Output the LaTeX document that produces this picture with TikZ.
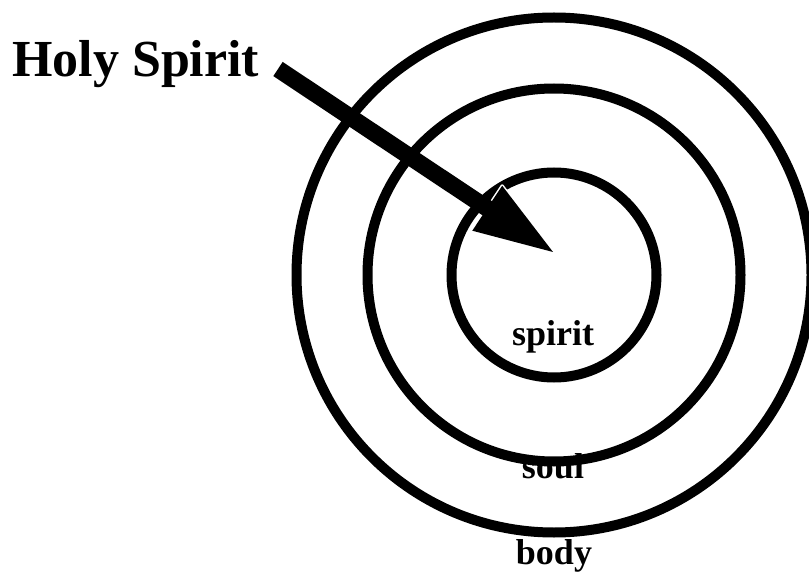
\documentclass[tikz,border=0pt]{standalone}
\usepackage{fontspec}
\setmainfont{Liberation Serif}
\usetikzlibrary{calc}
\begin{document}
\begin{tikzpicture}[x=1pt,y=-1pt,
  ring/.style={draw=black,line width=10pt},
  lbl/.style={inner sep=0pt,anchor=base,font=\fontsize{36}{36}\selectfont\bfseries},
  shaft/.style={line width=17pt,line cap=butt},
  headfill/.style={fill=black,draw=white,line width=3pt,line join=round}]
\useasboundingbox (0,0) rectangle (809,572);
% labels (rings are drawn over them)
\node[inner sep=0pt,anchor=base west,font=\fontsize{52}{52}\selectfont\bfseries] (hs) at (12,77) {Holy Spirit};
\node[lbl] (spiritlbl) at (553,345) {spirit};
\node[lbl] (soullbl) at (553,478) {soul};
\node[lbl] (bodylbl) at (554,564) {body};
% rings
\coordinate (c) at (554,275);
\node[ring,circle,minimum size=205pt,inner sep=0pt] (inner) at (c) {};
\node[ring,circle,minimum size=373pt,inner sep=0pt] (middle) at (c) {};
\node[ring,circle,minimum size=515pt,inner sep=0pt] (outer) at (c) {};
% arrow
\coordinate (tail) at (278,69);
\coordinate (tip) at (553,252);
\coordinate (base) at ($(tip)!79pt!(tail)$);
\coordinate (barbA) at ($(base)!27pt!90:(tip)$);
\coordinate (barbB) at ($(base)!27pt!-90:(tip)$);
\filldraw[headfill] (tip) -- (barbA) -- (barbB) -- cycle;
\fill[black] (tip) -- (barbA) -- (barbB) -- cycle;
\draw[shaft] (tail) -- ($(base)!2pt!(tip)$);
\end{tikzpicture}
\end{document}
